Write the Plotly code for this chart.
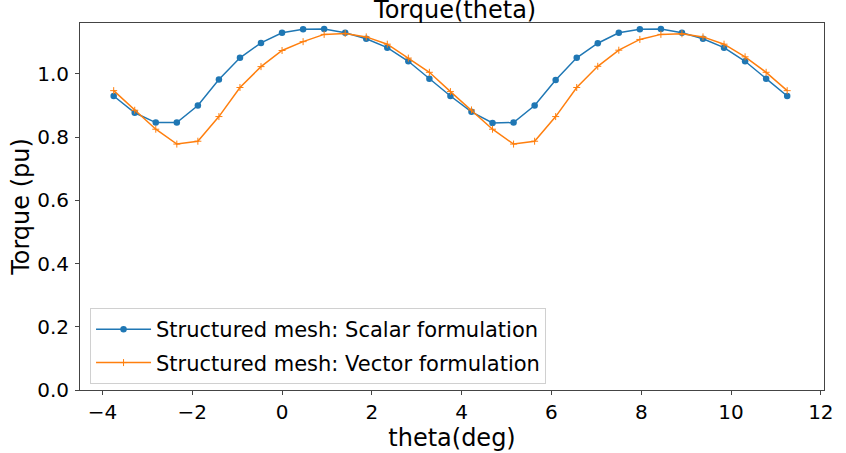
import numpy as np
import plotly.graph_objects as go

# Data
theta = [-3.75 + k * 0.46875 for k in range(33)]
scalar = [0.930, 0.877, 0.846, 0.846, 0.900, 0.982, 1.051, 1.098, 1.130, 1.141, 1.142,
          1.130, 1.111, 1.083, 1.040, 0.985, 0.930,
          0.880, 0.845, 0.846, 0.900, 0.981, 1.051, 1.097, 1.130, 1.141, 1.142,
          1.130, 1.111, 1.083, 1.040, 0.985, 0.930]
vector = [0.947, 0.885, 0.825, 0.778, 0.787, 0.865, 0.957, 1.023, 1.074, 1.102, 1.125,
          1.128, 1.117, 1.094, 1.050, 1.005, 0.944,
          0.886, 0.825, 0.778, 0.787, 0.865, 0.957, 1.024, 1.075, 1.109, 1.125,
          1.127, 1.117, 1.094, 1.054, 1.005, 0.947]
xticks = [-4, -2, 0, 2, 4, 6, 8, 10, 12]
xticklabels = ["\u22124", "\u22122", "0", "2", "4", "6", "8", "10", "12"]
yticks = [0.0, 0.2, 0.4, 0.6, 0.8, 1.0]

FONT = "DejaVu Sans"

fig = go.Figure()
fig.add_trace(go.Scatter(
    x=theta, y=scalar, mode="lines+markers",
    name="Structured mesh: Scalar formulation", legendgroup="a",
    line=dict(color="#1f77b4", width=1.5),
    marker=dict(symbol="circle", size=6.5, color="#1f77b4"),
))
fig.add_trace(go.Scatter(
    x=theta, y=vector, mode="lines+markers",
    name="Structured mesh: Vector formulation", legendgroup="b",
    line=dict(color="#ff7f0e", width=1.5),
    marker=dict(symbol="cross-thin", size=5, color="#ff7f0e",
                line=dict(color="#ff7f0e", width=1)),
))

axis_common = dict(
    showline=True, linecolor="#444", linewidth=1, mirror=True,
    ticks="outside", ticklen=4, tickwidth=1, tickcolor="#444",
    showgrid=False, zeroline=False,
    tickfont=dict(family=FONT, size=20, color="black"),
)

fig.update_layout(
    width=846, height=453,
    margin=dict(l=80, r=16, t=23, b=61),
    paper_bgcolor="white", plot_bgcolor="white",
    font=dict(family=FONT, color="black"),
    title=dict(text="Torque(theta)", x=0.538, xanchor="center",
               y=0.978, yanchor="middle", yref="container",
               font=dict(family=FONT, size=24, color="black")),
    xaxis=dict(range=[-4.5, 12.07], tickvals=xticks, ticktext=xticklabels,
               title=dict(text="theta(deg)", font=dict(family=FONT, size=24), standoff=0),
               **axis_common),
    yaxis=dict(range=[0, 1.161], tickvals=yticks, tickformat=".1f",
               ticklabelstandoff=2,
               title=dict(text="Torque (pu)", font=dict(family=FONT, size=24), standoff=0),
               **axis_common),
    legend=dict(x=0.0135, y=0.016, xanchor="left", yanchor="bottom",
                bgcolor="rgba(255,255,255,0.8)", bordercolor="#d0d0d0", borderwidth=1,
                font=dict(family=FONT, size=21, color="black"),
                itemwidth=55,
                traceorder="grouped", tracegroupgap=3),
    showlegend=True,
)

fig.write_html("out.html",
               config={"displayModeBar": False},
               post_script="document.body.style.margin='0';document.body.style.overflow='hidden';")
